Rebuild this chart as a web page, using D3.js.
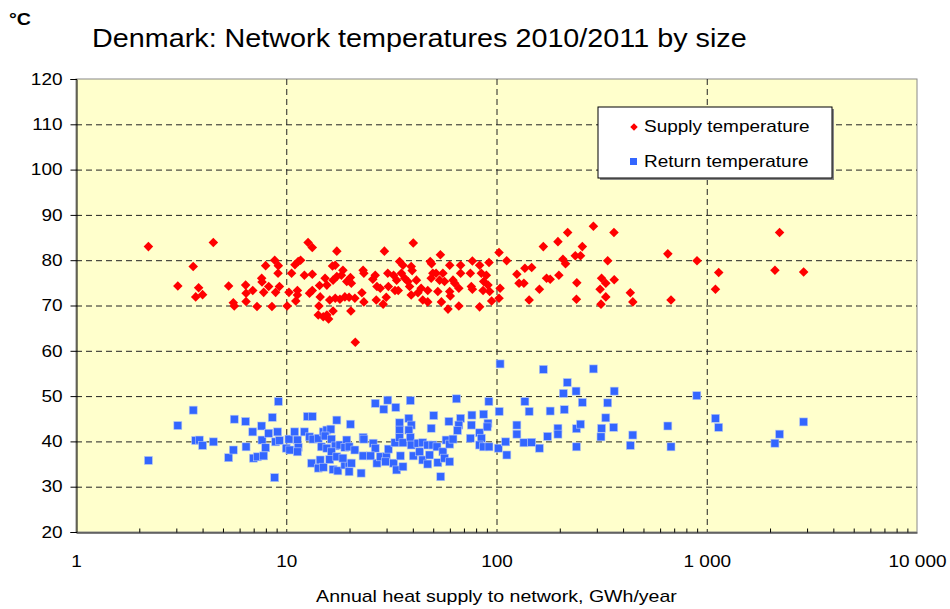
<!DOCTYPE html>
<html>
<head>
<meta charset="utf-8">
<script src="https://cdn.jsdelivr.net/npm/d3@7"></script>
<style>
  body { margin: 0; background: #fff; }
  svg { font-family: "Liberation Sans", Arial, sans-serif; }
</style>
</head>
<body>
<div id="vis"></div>
<script>
// data: [GWh/year, °C]
const supply = [
  [2.21,83.0],[4.5,83.9],[3.61,78.6],[3.05,74.3],[3.83,73.9],[3.71,71.9],[4.0,72.4],
  [5.32,74.3],[5.6,70.6],[5.66,69.9],[6.41,74.5],[6.44,72.7],[6.44,70.9],[6.93,73.3],
  [7.26,69.8],[7.64,76.0],[7.67,75.2],[7.81,72.9],[7.98,78.8],[8.25,74.2],[8.55,69.8],
  [8.81,80.0],[9.17,78.8],[9.14,77.1],[9.28,74.2],[8.9,72.9],[11.3,72.3],
  [12.7,83.9],[13.3,82.8],[17.4,82.0],[29.3,82.0],[40.2,83.8],[54.1,81.2],[102.8,81.7],
  [111.8,79.9],[21.3,61.9],
  [10.6,77.1],[10.3,72.9],[10.1,69.9],[11.0,79.0],[11.4,79.7],[11.7,80.0],[11.3,73.3],
  [11.1,71.0],[12.2,76.7],[13.3,76.9],[13.3,73.3],[12.9,72.7],[14.4,74.4],[14.5,71.9],
  [14.3,69.9],[14.2,67.9],[15.0,67.5],[15.9,67.0],[15.6,67.9],[16.7,68.8],[15.3,76.0],
  [15.6,74.5],[16.7,75.6],[17.1,78.9],[16.6,78.7],[17.4,76.4],[18.3,76.7],[18.6,77.8],
  [19.4,75.3],[20.2,76.2],[20.4,74.9],[16.1,71.2],[17.1,71.6],[18.0,71.4],[19.0,71.9],
  [19.9,71.8],[21.2,71.6],[20.3,68.8],[23.2,77.8],[23.4,77.1],[22.9,72.8],[23.4,70.8],
  [26.5,76.7],[25.8,75.8],[27.0,74.2],[28.0,73.8],[26.8,71.2],[28.9,70.3],[29.9,71.8],
  [30.6,74.2],[30.4,77.1],[32.4,76.7],[33.5,75.6],[32.9,73.3],[34.1,73.3],[34.6,79.7],
  [35.9,78.9],[35.3,77.1],[36.6,76.0],[37.9,75.3],[39.3,78.6],[39.7,77.7],[38.6,74.2],
  [41.6,75.6],[39.3,72.3],[42.3,72.8],[43.8,73.8],[44.6,71.2],[47.1,73.3],[47.1,70.8],
  [48.4,79.7],[49.1,79.2],[49.8,77.1],[48.9,76.0],[51.6,77.1],[53.6,75.6],[55.6,77.1],
  [56.6,75.3],[52.6,73.1],[54.7,70.8],[58.8,69.2],[59.9,78.9],[62.1,75.6],[63.3,74.9],
  [59.9,73.1],[60.3,72.1],[66.2,69.9],[67.5,78.9],[67.5,77.1],[66.2,73.8],[76.8,79.8],
  [75.1,77.1],[75.9,74.2],[76.8,73.6],[83.1,78.9],[84.7,77.1],[86.9,75.3],[83.1,69.7],
  [89.5,76.7],[91.1,74.5],[92.1,79.5],[92.8,73.1],[86.3,73.3],[94.8,71.0],[102.8,71.6],
  [104,73.8],[125,76.9],[128,74.9],[136.5,78.2],[143,71.2],
  [135,74.9],[147,78.4],[160,73.6],[167,83.0],[173,76.0],[180,75.8],[196,84.1],[198,76.7],
  [218,86.1],[207,80.2],[213,79.2],[237,81.0],[251,81.0],[256,83.0],[241,75.0],[240,71.4],
  [289,87.5],[316,76.0],[331,74.9],[311,73.6],[331,71.9],[314,70.3],[362,86.1],[338,79.9],
  [363,75.7],[433,72.8],[445,70.8],[653,81.4],[676,71.2],[899,79.9],[1140,77.3],[1100,73.6],
  [2220,86.1],[2110,77.8],[2890,77.4]
];
const ret = [
  [2.21,35.8],[3.05,43.5],[3.61,46.9],[3.71,40.2],[3.86,40.3],[4.0,39.1],[4.5,39.9],
  [5.32,36.4],[5.6,38.1],[5.66,44.9],[6.41,44.4],[6.44,38.8],[6.93,42.1],[6.98,36.3],
  [7.29,36.6],[7.64,43.4],[7.67,40.3],[7.81,36.8],[7.98,38.6],[8.25,41.8],[8.58,45.3],
  [8.81,32.0],[9.17,48.8],[9.1,42.1],[8.9,39.9],[9.28,40.2],[10.3,40.5],[10.0,38.5],
  [10.4,38.1],[10.97,42.1],[11.3,40.3],[11.4,38.7],[11.3,37.7],[12.2,42.1],[12.6,45.5],
  [13.2,35.2],
  [104,57.1],[26.5,48.4],[30.4,49.1],[29.1,47.1],[33.2,47.5],[38.9,49.0],[64.5,49.4],
  [92.0,48.8],[103,46.6],[13.3,45.5],[17.4,44.7],[20.2,43.8],[50.3,45.7],[59.4,44.4],
  [67.5,45.1],[76.4,45.8],[86.9,46.0],[75.9,43.6],[91.1,44.0],[34.6,44.1],[38.3,45.1],
  [39.3,43.6],[48.9,42.9],[66.2,43.6],[65.2,42.4],[83.1,41.9],[90.3,43.2],
  [12.9,41.0],[13.4,40.5],[14.2,40.7],[15.0,42.1],[15.6,42.5],[16.3,42.7],[15.3,41.2],
  [16.4,40.5],[14.7,38.8],[15.6,38.5],[17.1,39.0],[18.0,39.2],[19.4,40.3],[19.0,38.7],
  [19.9,38.8],[21.2,38.1],[16.4,37.7],[14.5,35.9],[14.2,34.1],[15.0,34.3],[16.7,33.8],
  [17.6,33.5],[19.0,34.8],[19.9,35.2],[19.9,33.3],[22.7,33.0],[16.1,36.0],[17.4,36.6],
  [18.6,36.3],[20.4,35.2],[23.2,40.9],[23.4,40.5],[23.2,36.8],[25.9,39.6],[26.5,38.5],
  [27.0,35.2],[25.2,36.8],[28.0,36.6],[29.9,36.6],[30.6,38.3],[29.7,35.5],[32.4,35.2],
  [33.5,33.7],[35.9,34.4],[34.9,36.8],[32.9,39.7],[34.6,42.5],[34.6,40.9],[35.9,39.7],
  [38.3,42.5],[38.9,40.9],[39.3,39.2],[40.2,36.8],[42.3,39.6],[43.1,37.7],[44.6,35.9],
  [44.6,39.7],[47.1,39.2],[47.1,35.0],[48.0,37.0],[49.8,39.2],[52.1,38.8],[52.6,35.3],
  [54.3,32.2],[55.6,37.7],[56.6,36.3],[59.9,35.5],[57.6,40.3],[59.9,39.4],[62.1,40.5],
  [75.1,40.7],[84.7,40.7],[83.1,39.2],[86.9,38.8],[92.1,38.8],[102,38.5],[110.6,39.9],
  [112,37.0],[125,43.6],[125,41.6],[136.5,48.8],[135,39.7],[143,46.6],
  [167,55.9],[289,56.0],[217,53.0],[239,51.1],[208,50.6],[363,51.1],[897,50.1],[256,48.6],
  [338,48.5],[180,46.7],[210,47.0],[331,45.2],[147,39.8],[160,38.5],[175,41.1],[196,42.9],
  [196,41.6],[240,42.8],[251,43.8],[240,38.8],[316,42.9],[314,41.0],[361,43.1],[445,41.4],
  [433,39.1],[653,43.4],[676,38.8],[1100,45.1],[1140,43.1],[2220,41.6],[2110,39.6],[2890,44.3]
];
const xTicks = [1, 10, 100, 1000, 10000];
const yTicks = [20, 30, 40, 50, 60, 70, 80, 90, 100, 110, 120];

const WIDTH = 950, HEIGHT = 609;
const MARG = {left: 76, right: 33, top: 79, bottom: 77};
const STRETCH = 1.15; // the original text is a bit wider than Arial

const svg = d3.select("#vis").append("svg")
    .attr("width", WIDTH)
    .attr("height", HEIGHT);

const X_SCALE = d3.scaleLog().domain([1, 10000]).range([MARG.left, WIDTH - MARG.right]);
const Y_SCALE = d3.scaleLinear().domain([20, 120]).range([HEIGHT - MARG.bottom, MARG.top]);

const x0 = X_SCALE.range()[0], x1 = X_SCALE.range()[1];
const y0 = Y_SCALE.range()[0], y1 = Y_SCALE.range()[1];

// plot background
svg.append("rect")
    .attr("x", x0).attr("y", y1)
    .attr("width", x1 - x0).attr("height", y0 - y1)
    .attr("fill", "#ffffcc")
    .attr("stroke", "#888")
    .attr("stroke-width", 1);

// gridlines
svg.append("g").selectAll("line")
    .data(yTicks.filter(d => d > 20 && d < 120))
    .enter().append("line")
      .attr("x1", x0).attr("x2", x1)
      .attr("y1", d => Y_SCALE(d) + 0.5).attr("y2", d => Y_SCALE(d) + 0.5)
      .attr("stroke", "#222").attr("stroke-dasharray", "6,4");
svg.append("g").selectAll("line")
    .data(xTicks.filter(d => d > 1 && d < 10000))
    .enter().append("line")
      .attr("x1", d => X_SCALE(d) + 0.5).attr("x2", d => X_SCALE(d) + 0.5)
      .attr("y1", y1).attr("y2", y0)
      .attr("stroke", "#222").attr("stroke-dasharray", "6,4");

// y axis
const yAxis = svg.append("g")
    .attr("transform", "translate(" + (x0 + 0.5) + ",0)")
    .call(d3.axisLeft(Y_SCALE).tickValues(yTicks).tickSize(6).tickPadding(8));
yAxis.selectAll("text").attr("font-size", "16.5px").attr("fill", "#000");
yAxis.selectAll("line,path").attr("stroke", "#000");

// x axis, minor ticks inside
const minor = [];
for (let p = 1; p < 10000; p *= 10) {
  for (let m = 2; m < 10; m++) minor.push(p * m);
}
svg.append("g")
    .attr("transform", "translate(0," + (y0 + 0.5) + ")")
    .call(d3.axisBottom(X_SCALE).tickValues(minor).tickSize(-4).tickFormat(""))
    .call(g => g.select(".domain").remove())
    .selectAll("line").attr("stroke", "#000");

const loc = d3.formatLocale({decimal: ".", thousands: " ", grouping: [3], currency: ["", ""]});
const xAxis = svg.append("g")
    .attr("transform", "translate(0," + (y0 + 0.5) + ")")
    .call(d3.axisBottom(X_SCALE).tickValues(xTicks).tickSize(0).tickPadding(23)
      .tickFormat(loc.format(",")));
xAxis.selectAll("text").attr("font-size", "16.5px").attr("fill", "#000");
xAxis.selectAll("path").attr("stroke", "#000");

// points
svg.append("g").selectAll("rect")
    .data(ret)
    .enter().append("rect")
      .attr("x", d => X_SCALE(d[0]) - 4)
      .attr("y", d => Y_SCALE(d[1]) - 4)
      .attr("width", 8).attr("height", 8)
      .attr("fill", "#3366ff")
      .attr("stroke", "#b8c8f0").attr("stroke-width", 0.6);

const diamond = d3.symbol().type(d3.symbolDiamond2).size(58);
svg.append("g").selectAll("path")
    .data(supply)
    .enter().append("path")
      .attr("d", diamond)
      .attr("transform", d => "translate(" + X_SCALE(d[0]) + "," + Y_SCALE(d[1]) + ")")
      .attr("fill", "#ff0000");

// legend
const legend = svg.append("g").attr("transform", "translate(598,107)");
legend.append("rect").attr("x", 2).attr("y", 2).attr("width", 234).attr("height", 71).attr("fill", "#888");
legend.append("rect").attr("width", 234).attr("height", 71)
    .attr("fill", "#fff").attr("stroke", "#000").attr("stroke-width", 1);
legend.append("path").attr("d", d3.symbol().type(d3.symbolDiamond2).size(36))
    .attr("transform", "translate(36,20)").attr("fill", "#ff0000");
legend.append("rect").attr("x", 32).attr("y", 51).attr("width", 7).attr("height", 7).attr("fill", "#3366ff");
legend.append("text").attr("x", 46).attr("y", 25).attr("font-size", "16.5px").text("Supply temperature");
legend.append("text").attr("x", 46).attr("y", 60).attr("font-size", "16.5px").text("Return temperature");

// titles
svg.append("text").attr("x", 9).attr("y", 25)
    .attr("font-size", "17px").attr("font-weight", "bold").text("°C");
svg.append("text").attr("x", 92).attr("y", 47)
    .attr("font-size", "25px").text("Denmark: Network temperatures 2010/2011 by size");
svg.append("text").attr("x", (x0 + x1) / 2).attr("y", 602)
    .attr("text-anchor", "middle").attr("font-size", "17px")
    .text("Annual heat supply to network, GWh/year");

// widen all text slightly to match the original's glyph widths
svg.selectAll("text").each(function() {
  const w = this.getComputedTextLength();
  if (w > 0) {
    d3.select(this).attr("textLength", w * STRETCH).attr("lengthAdjust", "spacingAndGlyphs");
  }
});
</script>
</body>
</html>
